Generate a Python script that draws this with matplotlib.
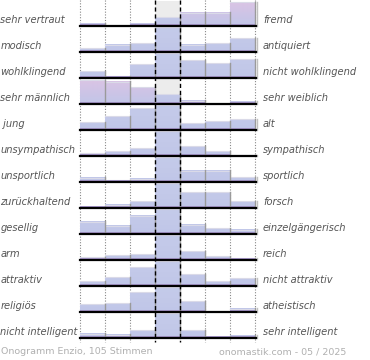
import numpy as np
import matplotlib
matplotlib.use("Agg")
import matplotlib.pyplot as plt
from matplotlib.patches import Rectangle
from matplotlib.colors import LinearSegmentedColormap

# Polaritätsprofil (Onogramm) für Enzio
left_labels = ["sehr vertraut", "modisch", "wohlklingend", "sehr männlich", " jung",
               "unsympathisch", "unsportlich", "zurückhaltend", "gesellig", "arm",
               "attraktiv", "religiös", "nicht intelligent"]
right_labels = ["fremd", "antiquiert", "nicht wohlklingend", "sehr weiblich", "alt",
                "sympathisch", "sportlich", "forsch", "einzelgängerisch", "reich",
                "nicht attraktiv", "atheistisch", "sehr intelligent"]

# Balkenhöhen je Zeile (7 Stufen, 25 = volle Zeilenhöhe)
values = [
    [2.3, 0.0, 2.3, 9.0, 13.3, 13.3, 24.0],
    [4.0, 7.3, 9.0, 25.0, 7.3, 9.0, 14.0],
    [6.7, 1.7, 14.0, 25.0, 18.0, 15.0, 19.0],
    [24.0, 22.3, 17.0, 10.0, 3.3, 0.5, 2.3],
    [7.6, 14.0, 22.0, 25.0, 6.7, 9.0, 11.0],
    [2.7, 5.0, 8.0, 25.0, 10.0, 4.7, 1.0],
    [4.3, 2.0, 3.3, 25.0, 11.3, 11.3, 4.7],
    [1.3, 3.3, 6.7, 25.0, 16.0, 16.0, 6.7],
    [12.3, 8.3, 18.3, 25.0, 9.3, 6.0, 4.3],
    [3.0, 4.7, 5.7, 25.0, 8.7, 3.7, 1.7],
    [4.7, 9.0, 19.0, 25.0, 12.0, 4.7, 7.7],
    [8.0, 9.0, 19.7, 25.0, 10.7, 0.0, 3.3],
    [4.3, 3.3, 7.7, 25.0, 7.7, 1.3, 2.3],
]
footer_left = "Onogramm Enzio, 105 Stimmen"
footer_right = "onomastik.com - 05 / 2025"

W, H = 370, 360
x0, bw = 80, 25          # Start der Skala, Breite einer Stufe
row_h, base0 = 26, 25.5  # Zeilenhöhe, Grundlinie der ersten Zeile

fig = plt.figure(figsize=(W / 100, H / 100), dpi=100)
ax = fig.add_axes([0, 0, 1, 1])
ax.set_xlim(0, W)
ax.set_ylim(H, 0)
ax.axis("off")

pink = LinearSegmentedColormap.from_list("pink", ["#dcc4e4", "#cfc4e6", "#c2c6e8"])
blue = LinearSegmentedColormap.from_list("blue", ["#c4cbea", "#c3c9e9", "#c0c6e8"])
grad = np.linspace(0, 1, 50).reshape(-1, 1)

nbins = len(values[0])
mid = nbins // 2
x_edges = x0 + bw * np.arange(nbins + 1)

for i, row in enumerate(values):
    base = base0 + i * row_h
    top = base - row_h + 1
    # grauer Hintergrund der neutralen Stufe
    ax.add_patch(Rectangle((x_edges[mid], top), bw, base - top, color="#ececec", lw=0, zorder=0))
    cmap = blue if np.argmax(row) == mid else pink
    for j, v in enumerate(row):
        if v <= 0:
            continue
        h = min(v, base - top)
        rect = Rectangle((x_edges[j], base - h), bw, h, fc="none", ec="none")
        ax.add_patch(rect)
        im = ax.imshow(grad, cmap=cmap if j != mid else blue, aspect="auto",
                       extent=(x_edges[j], x_edges[j + 1], base, top),
                       interpolation="bilinear", zorder=1)
        im.set_clip_path(rect)
        ax.plot([x_edges[j], x_edges[j + 1]], [base - h + 0.5] * 2, color="#dadae8", lw=0.8, zorder=2)
        ax.add_patch(Rectangle((x_edges[j], base - min(h, 2)), bw, min(h, 2),
                               color="#a898cc", lw=0, zorder=2))
        # graue Kante rechts am Balken
        ax.plot([x_edges[j + 1]] * 2, [base, base - h], color="#9a9a9a", lw=1, zorder=3)
    if row[-1] > 0:
        ax.plot([x_edges[-1] + 1.5] * 2, [base, base - min(row[-1], base - top)],
                color="#c0c0c0", lw=1, zorder=3)
    ax.plot([x_edges[0], x_edges[-1] + 1], [base + 0.5] * 2, color="black", lw=1.6, zorder=4)
    ax.text(0.5, base - 5.5, left_labels[i], ha="left", va="center", fontsize=7.15,
            style="italic", color="#555555")
    ax.text(263, base - 5.5, right_labels[i], ha="left", va="center", fontsize=7.15,
            style="italic", color="#555555")

y_end = base0 + (len(values) - 1) * row_h + 4
for j in [0, 1, 2, 5, 6, 7]:
    ax.plot([x_edges[j]] * 2, [0, y_end], color="#888888", lw=0.8, ls=(0, (1, 1.5)), zorder=0.5)
for j in [mid, mid + 1]:
    ax.plot([x_edges[j]] * 2, [0, y_end], color="black", lw=1, ls=(0, (3, 2)), zorder=5)

ax.text(1, 352, footer_left, ha="left", va="center", fontsize=6.8, color="#b0b0b0")
ax.text(346, 352, footer_right, ha="right", va="center", fontsize=6.8, color="#b0b0b0")

fig.savefig("out.png", dpi=100)
